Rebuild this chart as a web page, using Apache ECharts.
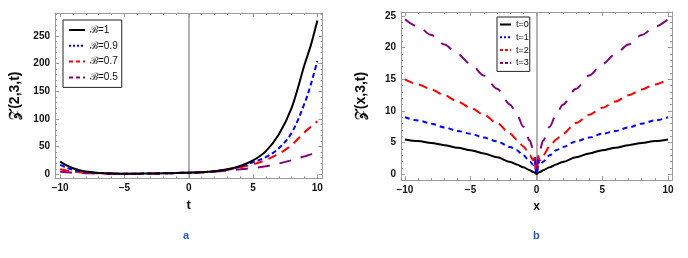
<!DOCTYPE html>
<html>
<head>
<meta charset="utf-8">
<script src="https://cdn.jsdelivr.net/npm/echarts@6/dist/echarts.min.js"></script>
<style>
html,body{margin:0;padding:0;background:#fff;}
#c{width:688px;height:258px;}
</style>
</head>
<body>
<div id="c"></div>
<script>
// ---- Panel a: Z(2,3,t) vs t ----
const tVals = [-10,-9.5,-9,-8.5,-8,-7,-6,-5,-4,-3,-2,-1,0,1,2,3,4,5,6,7,8,9,9.5,10];
const zB1   = [23,16,11,7.3,5,2.5,1.5,1.2,1.2,1.4,1.8,2.3,3,3.8,5.5,9,15,25,42,72,120,198,234,278];
const zB09  = [17,12,8.5,5.8,4,2.2,1.5,1.2,1.2,1.4,1.8,2.3,3,3.8,5.4,8.7,14,22,31,47,75,128,163,205];
const zB07  = [9,6.8,5,3.9,3,1.8,1.3,1.2,1.2,1.4,1.8,2.3,3,3.7,5.2,8,12.5,18,26,37,53,76,86,96];
const zB05  = [4.5,3.7,3,2.5,2,1.5,1.2,1.2,1.2,1.4,1.8,2.3,3,3.7,5,6.8,9,11.5,14.5,19.5,25.5,32.5,36,40];
const namesA = ['\u212C=1','\u212C=0.9','\u212C=0.7','\u212C=0.5'];

// ---- Panel b: Z(x,3,t) vs x ----
const xVals = [-10,-9,-8,-7,-6,-5,-4,-3,-2,-1.5,-1,-0.5,-0.25,-0.12,-0.04,0,0.04,0.12,0.25,0.5,1,1.5,2,3,4,5,6,7,8,9,10];
const zT0 = [5.5,5.25,4.95,4.6,4.2,3.8,3.3,2.7,1.95,1.55,1.1,0.65,0.35,0.25,0.1,0,0.1,0.25,0.35,0.65,1.1,1.55,1.95,2.7,3.3,3.8,4.2,4.6,4.95,5.25,5.5];
const zT1 = [9.0,8.5,8.0,7.4,6.85,6.4,5.8,5.2,4.3,3.8,3.0,2.0,1.5,2.2,0.1,0,0.1,2.2,1.5,2.0,3.0,3.8,4.3,5.2,5.8,6.4,6.85,7.4,8.0,8.5,9.0];
const zT2 = [15.0,14.2,13.4,12.5,11.5,10.5,9.4,8.1,6.4,5.5,4.4,3.0,2.2,2.9,0.1,0,0.1,2.9,2.2,3.0,4.4,5.5,6.4,8.1,9.4,10.5,11.5,12.5,13.4,14.2,15.0];
const zT3 = [24.5,23.3,22.0,20.5,19.0,17.4,15.6,13.5,11.0,9.5,7.5,5.3,3.8,3.1,0.1,0,0.1,3.1,3.8,5.3,7.5,9.5,11.0,13.5,15.6,17.4,19.0,20.5,22.0,23.3,24.5];
const namesB = ['t=0','t=1','t=2','t=3'];

// tick labels
const xTicks = [-10,-5,0,5,10];
const yTicksA = [0,50,100,150,200,250];
const yTicksB = [0,5,10,15,20,25];

const FRAME = '#9a9a9a';
const FONT = 'Liberation Sans, Arial, sans-serif';
const colors = ['#000000','#0000ff','#ff0000','#800080'];

function minorsOf(majors, step, lo, hi){
  const out=[];
  for(let v=Math.ceil(lo/step)*step; v<=hi+1e-9; v+=step){
    const r=Math.round(v*1000)/1000;
    if(majors.indexOf(r)<0) out.push(r);
  }
  return out;
}

function axisSet(grid, pos, min, max, majors, minorStep, opts){
  opts = opts || {};
  const minors = minorsOf(majors, minorStep, min, max);
  const base = {
    type:'value', gridIndex:grid, position:pos, min:min, max:max,
    splitLine:{show:false},
    axisLine:{show:true, onZero:false, lineStyle:{color:FRAME, width:1}},
  };
  const major = Object.assign({}, base, {
    axisTick:{show:true, inside:true, length:4, customValues:majors, lineStyle:{color:FRAME}},
    axisLabel: opts.labels ? {show:true, customValues:majors, margin:5, fontFamily:FONT, fontWeight:'bold', fontSize:10, color:'#111',
      formatter:function(v){return (v<0?'\u2212':'')+Math.abs(v);} } : {show:false},
  });
  if (opts.name){
    Object.assign(major, {name:opts.name, nameLocation:'middle', nameGap:opts.nameGap,
      nameTextStyle:opts.nameStyle});
  }
  const minor = Object.assign({}, base, {
    axisLine:{show:false, onZero:false},
    axisTick:{show:true, inside:true, length:2, customValues:minors, lineStyle:{color:FRAME}},
    axisLabel:{show:false}
  });
  return [major, minor];
}

const xAxes = [].concat(
  axisSet(0,'bottom',-10.4,10.4,xTicks,1,{labels:true,name:'t',nameGap:21,nameStyle:{fontFamily:FONT,fontWeight:'bold',fontSize:13,color:'#111'}}),
  axisSet(0,'top',-10.4,10.4,xTicks,1),
  axisSet(1,'bottom',-10.3,10.3,xTicks,1,{labels:true,name:'x',nameGap:21,nameStyle:{fontFamily:FONT,fontWeight:'bold',fontSize:12,color:'#111'}}),
  axisSet(1,'top',-10.3,10.3,xTicks,1)
);
const yAxes = [].concat(
  axisSet(0,'left',-7.2,291.6,yTicksA,10,{labels:true,name:'\uD835\uDCB5(2,3,t)',nameGap:33,nameStyle:{fontFamily:FONT,fontWeight:'bold',fontSize:14,color:'#111'}}),
  axisSet(0,'right',-7.2,291.6,yTicksA,10),
  axisSet(1,'left',-0.9,25.63,yTicksB,1,{labels:true,name:'\uD835\uDCB5(x,3,t)',nameGap:33,nameStyle:{fontFamily:FONT,fontWeight:'bold',fontSize:14,color:'#111'}}),
  axisSet(1,'right',-0.9,25.63,yTicksB,1)
);

function zip(xs, ys){ return xs.map((x,i)=>[x, ys[i]]); }

const dashA = ['solid',[5,3],[9,6],[12,10]];
const dashB = ['solid',[5,4],[9,6],[12,10]];
const seriesA = [zB1,zB09,zB07,zB05].map((d,i)=>({
  name:namesA[i], type:'line', xAxisIndex:0, yAxisIndex:0, data:zip(tVals,d),
  symbol:'none', smooth:0.35, color:colors[i],
  lineStyle:{color:colors[i], width:2, type:dashA[i]}, z:10-i
}));
const seriesB = [zT0,zT1,zT2,zT3].map((d,i)=>({
  name:namesB[i], type:'line', xAxisIndex:4, yAxisIndex:4, data:zip(xVals,d),
  symbol:'none', smooth:0.3, smoothMonotone:'x', color:colors[i],
  lineStyle:{color:colors[i], width:2, type:dashB[i]}, z:10-i
}));
const zeroLine = {silent:true, symbol:'none', label:{show:false}, lineStyle:{color:'#999', width:1.5, type:'solid'}, data:[{xAxis:0}]};
seriesA[0].markLine = zeroLine;
seriesB[0].markLine = JSON.parse(JSON.stringify(zeroLine));

const legIconA = ['solid','dotted',[4,3],[4,3]];
const legIconB = ['solid','dotted',[3,2],[3,2]];

const option = {
  animation:false,
  backgroundColor:'#fff',
  grid:[
    {left:55, top:13, width:267.5, height:165.3},
    {left:401, top:12, width:271, height:168}
  ],
  xAxis:xAxes,
  yAxis:yAxes,
  legend:[
    {id:'la', orient:'vertical', left:63, top:20, padding:[5,4,5,5], itemWidth:16, itemHeight:10, itemGap:5.8, itemTextGap:3,
     borderColor:'#222', borderWidth:1, backgroundColor:'#fff',
     textStyle:{fontFamily:FONT, fontSize:10, color:'#111'},
     itemStyle:{opacity:0},
     data:namesA.map((n,i)=>({name:n, lineStyle:{color:colors[i], width:2, type:legIconA[i]}}))},
    {id:'lb', orient:'vertical', left:497, top:17, padding:[3,1,4,2], itemWidth:11, itemHeight:8, itemGap:3.8, itemTextGap:1,
     borderColor:'#222', borderWidth:1, backgroundColor:'#fff',
     textStyle:{fontFamily:FONT, fontSize:9, color:'#111'},
     itemStyle:{opacity:0},
     data:namesB.map((n,i)=>({name:n, lineStyle:{color:colors[i], width:2, type:legIconB[i]}}))}
  ],
  graphic:[
    {type:'text', left:183, top:230, style:{text:'a', fill:'#2a56c8', font:'bold 11px Liberation Sans, Arial, sans-serif'}},
    {type:'text', left:533, top:230, style:{text:'b', fill:'#2a56c8', font:'bold 11px Liberation Sans, Arial, sans-serif'}}
  ],
  series:seriesA.concat(seriesB)
};
const chart = echarts.init(document.getElementById('c'), null, {renderer:'canvas'});
chart.setOption(option);
</script>
</body>
</html>
